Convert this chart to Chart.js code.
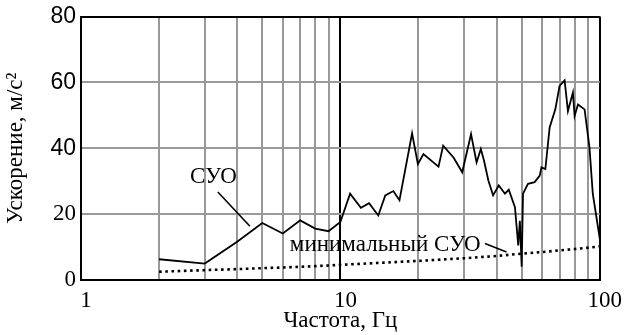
<!DOCTYPE html>
<html>
<head>
<meta charset="utf-8">
<script src="https://cdn.jsdelivr.net/npm/chart.js@4"></script>
<style>
  html, body { margin:0; padding:0; background:#fff; }
  #c { display:block; }
</style>
</head>
<body>
<canvas id="c" width="626" height="335"></canvas>
<script>
// ── Data ─────────────────────────────────────────────────────────────────────
const suoFreq = [2,3,4,5,6,7,8,9,10,10.9,12,12.9,14,14.9,16,16.9,18.9,19.9,20.9,23.9,24.9,27.3,29.5,31.9,33.5,34.8,35.8,37.2,38.8,40.8,43.1,44.6,47.1,48.5,49.2,50,50.6,52.9,56.1,58.7,59.6,61.7,64.1,67.4,70,73.2,75.4,78.8,80,82.4,87.4,91.3,94,100];
const suoVal  = [6.3,5.0,11.6,17.3,14.1,18.1,15.6,14.8,17.6,26.2,21.9,23.3,19.6,25.7,27,24.2,44.5,35.2,38.2,34.4,40.8,37.2,32.7,44.3,35.7,39.8,36.2,30.2,25.7,28.7,26.2,27.4,22.1,10.5,18,4.0,26.2,29.2,29.7,31.7,34.2,33.7,46.3,51.8,58.9,60.6,51.3,56.9,49.8,53.3,51.8,40.2,26.2,12.6];

const minFreq = [2,3,4,5,6,7,8,9,10,20,30,40,50,60,70,80,90,100];
const minVal  = [2.5,3.0,3.3,3.6,3.8,4.0,4.2,4.4,4.6,5.8,6.6,7.3,8.0,8.5,9.0,9.4,9.8,10.2];

const xTicks = [1,2,3,4,5,6,7,8,9,10,20,30,40,50,60,70,80,90,100];
const xLabels = { 1:'1', 10:'10', 100:'100' };
const yTicks = [0,20,40,60,80];

// annotation labels: [text, x, y] in data units, leader lines [x1,y1,x2,y2]
const notes = [
  { text:'СУО',             x:3.24, y:31.4, line:[3.37,26.7,4.48,16.3] },
  { text:'минимальный СУО', x:14.9, y:10.6, line:[36.1,11.1,43.7,8.5] },
];

const SERIF = '"Liberation Serif", "DejaVu Serif", serif';
const SANS  = '"Liberation Sans", Arial, sans-serif';

// ── Plugin: annotation texts + leaders ──────────────────────────────────────
const notesPlugin = {
  id:'notes',
  afterDatasetsDraw(chart) {
    const { ctx, scales:{x, y} } = chart;
    ctx.save();
    ctx.fillStyle = '#000';
    ctx.strokeStyle = '#000';
    ctx.lineWidth = 1.6;
    ctx.font = '23px ' + SERIF;
    ctx.textAlign = 'center';
    ctx.textBaseline = 'middle';
    notes.forEach(n => {
      ctx.fillText(n.text, x.getPixelForValue(n.x), y.getPixelForValue(n.y));
      const [a,b,c,d] = n.line;
      ctx.beginPath();
      ctx.moveTo(x.getPixelForValue(a), y.getPixelForValue(b));
      ctx.lineTo(x.getPixelForValue(c), y.getPixelForValue(d));
      ctx.stroke();
    });
    ctx.restore();
  }
};

new Chart(document.getElementById('c').getContext('2d'), {
  type:'line',
  data:{
    datasets:[
      { label:'СУО', data:suoFreq.map((f,i)=>({x:f, y:suoVal[i]})),
        borderColor:'#000', borderWidth:1.8, pointRadius:0, tension:0, fill:false },
      { label:'минимальный СУО', data:minFreq.map((f,i)=>({x:f, y:minVal[i]})),
        borderColor:'#000', borderWidth:2.6, borderDash:[2.6,3.6], pointRadius:0, tension:0, fill:false },
    ]
  },
  options:{
    responsive:false, animation:false,
    layout:{ padding:{ top:15, right:22, left:0, bottom:0 } },
    plugins:{ legend:{display:false}, tooltip:{enabled:false} },
    scales:{
      x:{
        type:'logarithmic', min:1, max:100,
        afterBuildTicks(s){ s.ticks = xTicks.map(v=>({value:v})); },
        afterFit(s){ s.height = 55; },
        ticks:{ autoSkip:false, maxRotation:0, color:'#000', padding:9, labelOffset:5,
          font:{ family:SERIF, size:23, lineHeight:1 },
          callback:v => xLabels[v] || '' },
        grid:{ drawTicks:false, lineWidth:2,
          color:c => (c.tick && (c.tick.value===10 || c.tick.value===100)) ? '#000' : '#999' },
        border:{ display:true, color:'#000', width:2 },
        title:{ display:true, text:'Частота, Гц', color:'#000', padding:{top:0,bottom:0},
          font:{ family:SERIF, size:23 } }
      },
      y:{
        min:0, max:80,
        afterBuildTicks(s){ s.ticks = yTicks.map(v=>({value:v})); },
        afterFit(s){ s.width = 81; },
        ticks:{ color:'#000', padding:5,
          font:c => (c.tick && c.tick.value>=40) ? { family:SANS, size:23, lineHeight:1 } : { family:SERIF, size:23, lineHeight:1 } },
        grid:{ drawTicks:false, lineWidth:2,
          color:c => (c.tick && c.tick.value===80) ? '#000' : '#999' },
        border:{ display:true, color:'#000', width:2 },
        title:{ display:true, text:'Ускорение, м/с²', color:'#000', padding:{top:2,bottom:4},
          font:{ family:SERIF, size:23 } }
      }
    }
  },
  plugins:[notesPlugin]
});
</script>
</body>
</html>
